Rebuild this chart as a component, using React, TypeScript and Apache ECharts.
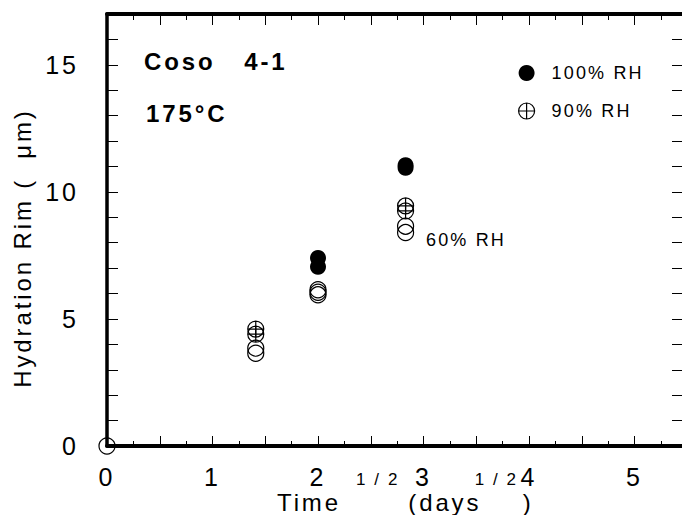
import React, { useEffect, useRef } from "react";
import * as echarts from "echarts";

const FONT = "'Liberation Sans', Arial, Helvetica, sans-serif";

// x = time^(1/2) in days^(1/2); y = hydration rim in µm
const rh100X = [2, 2, 2.83, 2.83];
const rh100Y = [7.4, 7.05, 11.05, 10.95];
const rh90X = [1.41, 1.41, 2.83, 2.83];
const rh90Y = [4.6, 4.4, 9.45, 9.25];
const rh60X = [0, 1.41, 1.41, 2, 2, 2, 2.83, 2.83];
const rh60Y = [0, 3.85, 3.65, 6.15, 6.05, 5.95, 8.65, 8.4];

const xLabels = [0, 1, 2, 3, 4, 5];
const yLabels = [0, 5, 10, 15];

const seriesNames = ["100% RH", "90% RH", "60% RH"];

const PLUS_CIRCLE =
  "path://M0,8A8,8,0,1,1,16,8A8,8,0,1,1,0,8ZM8,0L8,16M0,8L16,8";

const zip = (xs: number[], ys: number[]) => xs.map((x, i) => [x, ys[i]]);

export default function App() {
  const ref = useRef<HTMLDivElement>(null);
  useEffect(() => {
    if (!ref.current) return;
    const chart = echarts.init(ref.current, null, { renderer: "svg" });
    const axisCommon = {
      type: "value" as const,
      splitLine: { show: false },
    };
    const xFmt = (v: number) => (xLabels.includes(v) ? String(v) : "");
    const yFmt = (v: number) => (yLabels.includes(v) ? String(v) : "");
    const openStyle = { color: "rgba(0,0,0,0)", borderColor: "#000", borderWidth: 1.2, opacity: 1 };
    const filledStyle = { color: "#000", borderWidth: 0, opacity: 1 };
    chart.setOption({
      animation: false,
      backgroundColor: "#fff",
      grid: { left: 107, top: 14, right: 0, bottom: 69, containLabel: false },
      xAxis: [
        {
          ...axisCommon,
          position: "bottom",
          min: 0,
          max: 5.45,
          interval: 0.5,
          axisLine: { show: true, onZero: false, lineStyle: { color: "#000", width: 4 } },
          axisTick: { show: true, inside: true, length: 10, lineStyle: { color: "#000", width: 1 } },
          minorTick: { show: true, splitNumber: 2, length: 5, lineStyle: { color: "#000", width: 1 } },
          axisLabel: {
            formatter: xFmt,
            showMaxLabel: false,
            margin: 18,
            fontSize: 25,
            color: "#000",
            fontFamily: FONT,
          },
        },
        {
          ...axisCommon,
          position: "top",
          min: 0,
          max: 5.45,
          interval: 0.5,
          axisLine: { show: true, onZero: false, lineStyle: { color: "#000", width: 4 } },
          axisTick: { show: true, inside: true, length: 11, lineStyle: { color: "#000", width: 1 } },
          minorTick: { show: true, splitNumber: 2, length: 6, lineStyle: { color: "#000", width: 1 } },
          axisLabel: { show: false },
        },
      ],
      yAxis: [
        {
          ...axisCommon,
          position: "left",
          min: 0,
          max: 17,
          interval: 1,
          axisLine: { show: true, onZero: false, lineStyle: { color: "#000", width: 3.5 } },
          axisTick: { show: true, inside: true, length: 11, lineStyle: { color: "#000", width: 1 } },
          axisLabel: {
            formatter: yFmt,
            showMaxLabel: false,
            margin: 28,
            fontSize: 25,
            color: "#000",
            fontFamily: FONT,
          },
        },
        {
          ...axisCommon,
          position: "right",
          min: 0,
          max: 17,
          interval: 1,
          axisLine: { show: false, onZero: false },
          axisTick: { show: true, inside: true, length: 10, lineStyle: { color: "#000", width: 1 } },
          axisLabel: { show: false },
        },
      ],
      legend: {
        orient: "vertical",
        left: 513,
        top: 59,
        itemWidth: 32,
        itemHeight: 16,
        itemGap: 20,
        selectedMode: false,
        textStyle: { fontSize: 18, color: "#000", fontFamily: FONT, padding: [0, 0, 0, 4] },
        data: [
          { name: seriesNames[0], icon: "circle", itemStyle: filledStyle },
          { name: seriesNames[1], icon: PLUS_CIRCLE, itemStyle: openStyle },
        ],
      },
      graphic: [
        {
          type: "text",
          left: 144,
          top: 49,
          style: { text: "Coso   4-1", font: `bold 24px ${FONT}`, fill: "#000" },
        },
        {
          type: "text",
          left: 146,
          top: 101,
          style: { text: "175°C", font: `bold 24px ${FONT}`, fill: "#000" },
        },
        {
          type: "text",
          left: 426,
          top: 231,
          style: { text: "60% RH", font: `18px ${FONT}`, fill: "#000" },
        },
        {
          type: "text",
          x: 22,
          y: 248,
          rotation: Math.PI / 2,
          style: {
            text: "Hydration Rim (  μm)",
            font: `24px ${FONT}`,
            fill: "#000",
            align: "center",
            verticalAlign: "middle",
          },
        },
        {
          type: "text",
          x: 277,
          y: 502,
          style: {
            text: "Time    {s|1 / 2}  (days{s|  1 / 2}  )",
            font: `24px ${FONT}`,
            fill: "#000",
            align: "left",
            verticalAlign: "middle",
            rich: {
              s: { fontSize: 17, fontFamily: FONT, fill: "#000", padding: [0, 0, 46, 0] },
            },
          },
        },
      ],
      series: [
        {
          name: seriesNames[2],
          type: "scatter",
          clip: false,
          symbol: "circle",
          symbolSize: 16,
          itemStyle: openStyle,
          data: zip(rh60X, rh60Y),
        },
        {
          name: seriesNames[1],
          type: "scatter",
          clip: false,
          symbol: PLUS_CIRCLE,
          symbolSize: 16,
          itemStyle: openStyle,
          data: zip(rh90X, rh90Y),
        },
        {
          name: seriesNames[0],
          type: "scatter",
          clip: false,
          symbol: "circle",
          symbolSize: 16,
          itemStyle: filledStyle,
          data: zip(rh100X, rh100Y),
        },
      ],
    });
    return () => chart.dispose();
  }, []);
  return (
    <>
      <style>{"#root svg text { letter-spacing: 0.12em; }"}</style>
      <div
        ref={ref}
        style={{ position: "fixed", left: 0, top: 0, width: 682, height: 515 }}
      />
    </>
  );
}
